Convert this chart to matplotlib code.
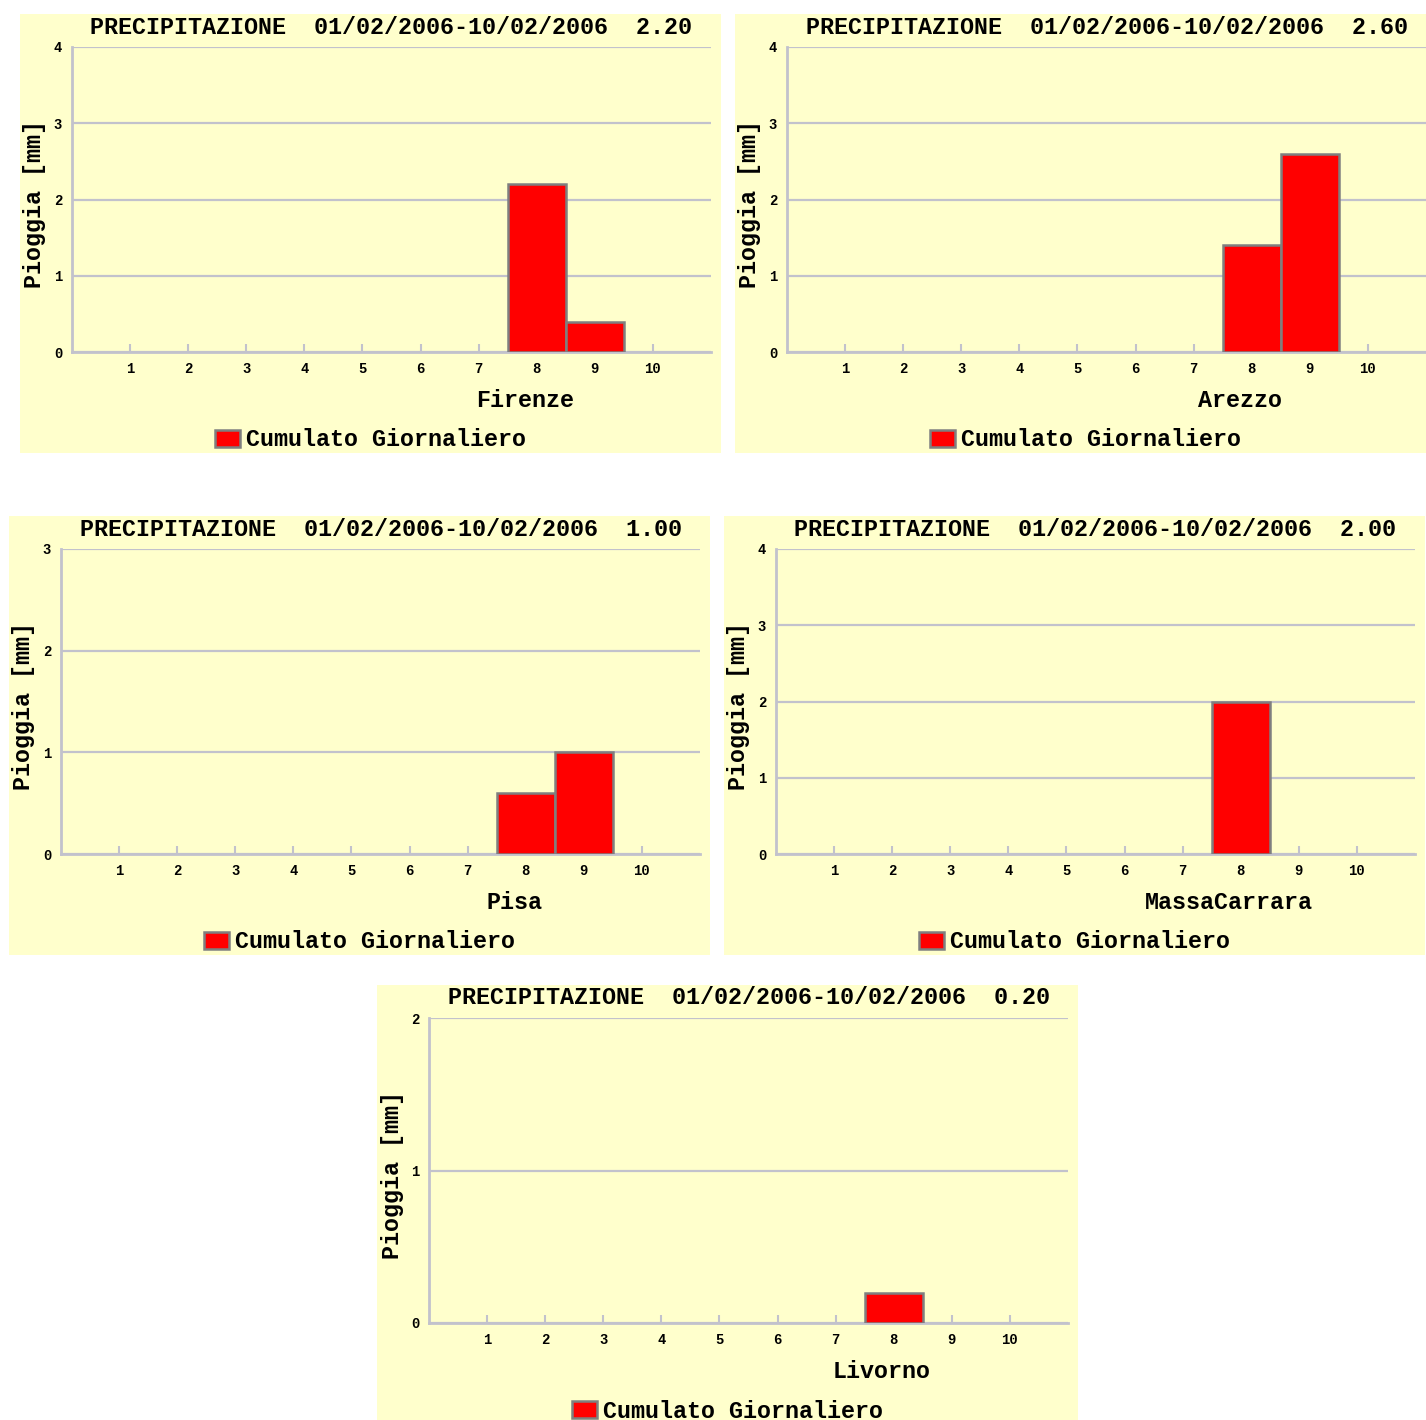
import matplotlib
matplotlib.use("Agg")
import matplotlib.pyplot as plt
from matplotlib.patches import Rectangle

days = list(range(1, 11))
stations = ["Firenze", "Arezzo", "Pisa", "MassaCarrara", "Livorno"]
firenze = [0, 0, 0, 0, 0, 0, 0, 2.2, 0.4, 0]
arezzo = [0, 0, 0, 0, 0, 0, 0, 1.4, 2.6, 0]
pisa = [0, 0, 0, 0, 0, 0, 0, 0.6, 1.0, 0]
massacarrara = [0, 0, 0, 0, 0, 0, 0, 2.0, 0, 0]
livorno = [0, 0, 0, 0, 0, 0, 0, 0.2, 0, 0]
totals = ["2.20", "2.60", "1.00", "2.00", "0.20"]
ymax = [4, 4, 3, 4, 2]
period = "01/02/2006-10/02/2006"
ylabel = "Pioggia [mm]"
legend_label = "Cumulato Giornaliero"
series = [firenze, arezzo, pisa, massacarrara, livorno]

W, H = 1426, 1420
fig = plt.figure(figsize=(W / 100, H / 100), dpi=100)
fig.patch.set_facecolor("white")

# panel background top-left corners in pixels
panels = [(20, 14), (735, 14), (9, 516), (724, 516), (377, 985)]
BGW, BGH = 701, 439
BG = "#ffffcc"
GRID = "#c2c2cc"
FONT = "Liberation Mono"
FS = 16.8

def fx(px):
    return px / W

def fy(py):
    return 1 - py / H

for i, (bx, by) in enumerate(panels):
    fig.patches.append(Rectangle((fx(bx), fy(by + BGH)), BGW / W, BGH / H,
                                 transform=fig.transFigure, facecolor=BG,
                                 edgecolor="none", zorder=-10))
    ax_left = bx + 52
    ax_w = 639
    ax_top = by + 33
    ax_bot = by + 338
    ax = fig.add_axes([fx(ax_left), fy(ax_bot), ax_w / W, (ax_bot - ax_top) / H])
    ax.set_facecolor("none")
    vals = series[i]
    lws = [1.8 if v > 0 else 0 for v in vals]
    bars = ax.bar(days, vals, width=1.0, color="#ff0000",
                  edgecolor="#7f7f7f", linewidth=lws, zorder=3,
                  label=legend_label)
    ax.set_xlim(0, 11)
    ax.set_ylim(0, ymax[i])
    ax.set_xticks(days)
    ax.set_xticklabels([str(d) for d in days])
    ax.set_yticks(range(0, ymax[i] + 1))
    ax.yaxis.grid(True, color=GRID, linewidth=1.6, zorder=1)
    ax.set_axisbelow(True)
    for s in ["top", "right"]:
        ax.spines[s].set_visible(False)
    for s in ["left", "bottom"]:
        ax.spines[s].set_color(GRID)
        ax.spines[s].set_linewidth(2.0)
    ax.tick_params(axis="x", direction="in", length=6, width=1.5, color=GRID,
                   pad=7, labelsize=10)
    ax.tick_params(axis="y", length=0, pad=7, labelsize=10)
    for lab in ax.get_xticklabels() + ax.get_yticklabels():
        lab.set_fontfamily(FONT)
        lab.set_fontweight("bold")
    # y label
    fig.text(fx(bx + 15), fy(by + 190), ylabel, rotation=90, ha="center",
             va="center", fontfamily=FONT, fontweight="bold", fontsize=FS)
    # title centred on axes
    fig.text(fx(ax_left + ax_w / 2), fy(by + 13),
             "PRECIPITAZIONE  " + period + "  " + totals[i],
             ha="center", va="center", fontfamily=FONT, fontweight="bold",
             fontsize=FS)
    # station label
    fig.text(fx(ax_left + 453), fy(by + 386), stations[i], ha="center",
             va="center", fontfamily=FONT, fontweight="bold", fontsize=FS)
    # legend centred in panel
    leg = ax.legend(handles=[bars], loc="center",
                    bbox_to_anchor=(fx(bx + BGW / 2), fy(by + 426)),
                    bbox_transform=fig.transFigure, frameon=False,
                    prop={"family": FONT, "weight": "bold", "size": FS},
                    handlelength=1.1, handleheight=0.75, handletextpad=0.25,
                    borderpad=0, borderaxespad=0)
    for h in leg.legend_handles:
        h.set_linewidth(1.8)

fig.savefig("out.png", dpi=100, facecolor="white")
